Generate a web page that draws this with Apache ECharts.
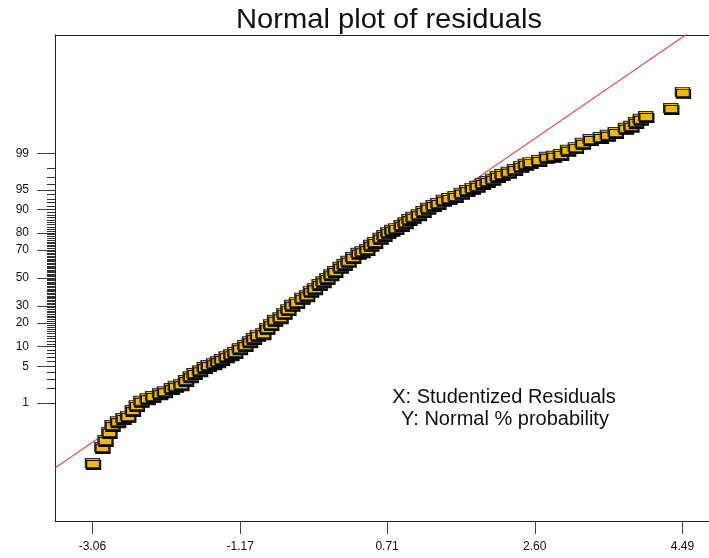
<!DOCTYPE html>
<html><head><meta charset="utf-8">
<script src="https://cdn.jsdelivr.net/npm/echarts@6/dist/echarts.min.js"></script>
<style>html,body{margin:0;padding:0;background:#fff}#c{width:709px;height:558px}</style>
</head><body><div id="c"></div>
<script>
// Studentized residuals (x) and their normal scores (y, in standard-normal units)
const residuals = [-3.06,-2.94,-2.90,-2.85,-2.81,-2.74,-2.67,-2.61,-2.55,-2.50,-2.44,-2.36,-2.29,-2.20,-2.14,-2.05,-2.00,-1.93,-1.87,-1.81,-1.76,-1.69,-1.63,-1.58,-1.51,-1.46,-1.41,-1.35,-1.29,-1.24,-1.18,-1.11,-1.05,-1.00,-0.95,-0.88,-0.83,-0.78,-0.73,-0.66,-0.61,-0.56,-0.51,-0.45,-0.38,-0.32,-0.27,-0.22,-0.16,-0.11,-0.06,-0.01,0.04,0.11,0.16,0.21,0.27,0.34,0.39,0.45,0.50,0.55,0.62,0.67,0.72,0.77,0.82,0.89,0.94,0.99,1.04,1.11,1.17,1.23,1.30,1.36,1.43,1.50,1.58,1.66,1.73,1.80,1.86,1.93,1.99,2.06,2.12,2.18,2.26,2.34,2.42,2.48,2.54,2.65,2.75,2.84,2.93,3.02,3.12,3.21,3.31,3.44,3.53,3.63,3.76,3.83,3.89,3.95,4.02,4.34,4.49];
const normalScores = [-3.45,-3.15,-3.02,-2.87,-2.74,-2.67,-2.61,-2.57,-2.46,-2.37,-2.29,-2.24,-2.20,-2.15,-2.11,-2.05,-2.01,-1.98,-1.90,-1.83,-1.77,-1.72,-1.66,-1.62,-1.59,-1.55,-1.51,-1.46,-1.42,-1.38,-1.31,-1.25,-1.18,-1.12,-1.06,-1.03,-0.93,-0.86,-0.78,-0.73,-0.65,-0.58,-0.50,-0.45,-0.37,-0.32,-0.24,-0.19,-0.11,-0.06,0.00,0.07,0.13,0.21,0.26,0.32,0.39,0.47,0.50,0.54,0.62,0.67,0.75,0.80,0.86,0.90,0.93,0.99,1.04,1.10,1.14,1.19,1.25,1.31,1.36,1.40,1.46,1.49,1.53,1.59,1.64,1.68,1.72,1.77,1.81,1.85,1.90,1.94,1.98,2.03,2.09,2.13,2.16,2.20,2.26,2.28,2.31,2.39,2.44,2.52,2.59,2.63,2.67,2.72,2.80,2.84,2.91,2.97,3.02,3.17,3.47];
const xTickLabels = ['-3.06','-1.17','0.71','2.60','4.49'];
const yTickLabels = ['1','5','10','20','30','50','70','80','90','95','99'];
const xRange = [-3.54, 4.83];
const yRange = [-4.53, 4.53];
const refLineX = [-3.54, 4.83];

function probit(p){
  const a=[-3.969683028665376e+01,2.209460984245205e+02,-2.759285104469687e+02,1.383577518672690e+02,-3.066479806614716e+01,2.506628277459239e+00];
  const b=[-5.447609879822406e+01,1.615858368580409e+02,-1.556989798598866e+02,6.680131188771972e+01,-1.328068155288572e+01];
  const c=[-7.784894002430293e-03,-3.223964580411365e-01,-2.400758277161838e+00,-2.549671348109180e+00,4.374664141464968e+00,2.938163982698783e+00];
  const d=[7.784695709041462e-03,3.224671290700398e-01,2.445134137142996e+00,3.754408661907416e+00];
  const pl=0.02425, ph=1-pl; let q,r;
  if(p<pl){q=Math.sqrt(-2*Math.log(p));return (((((c[0]*q+c[1])*q+c[2])*q+c[3])*q+c[4])*q+c[5])/((((d[0]*q+d[1])*q+d[2])*q+d[3])*q+1);}
  if(p<=ph){q=p-0.5;r=q*q;return (((((a[0]*r+a[1])*r+a[2])*r+a[3])*r+a[4])*r+a[5])*q/(((((b[0]*r+b[1])*r+b[2])*r+b[3])*r+b[4])*r+1);}
  q=Math.sqrt(-2*Math.log(1-p));return -(((((c[0]*q+c[1])*q+c[2])*q+c[3])*q+c[4])*q+c[5])/((((d[0]*q+d[1])*q+d[2])*q+d[3])*q+1);
}
const yMajorZ = yTickLabels.map(s => probit(parseFloat(s)/100));
const yMinorZ = [];
for (let i = 1; i <= 99; i++) yMinorZ.push(probit(i/100));
const xTickVals = xTickLabels.map(parseFloat);

const FONT = "'Liberation Sans', Arial, sans-serif";
const chart = echarts.init(document.getElementById('c'), null, {renderer:'canvas'});
chart.setOption({
  animation:false,
  backgroundColor:'#fff',
  grid:{left:55, right:0, top:35, bottom:37},
  xAxis:[{
    type:'value', min:xRange[0], max:xRange[1], position:'bottom',
    axisLine:{show:true, onZero:false, lineStyle:{color:'#222', width:1}},
    axisTick:{show:true, customValues:xTickVals, length:13, lineStyle:{color:'#444'}},
    axisLabel:{customValues:xTickVals, margin:20, fontFamily:FONT, fontSize:12, color:'#111',
      formatter:v => { const i = xTickVals.findIndex(t => Math.abs(t-v)<1e-9); return i>=0 ? xTickLabels[i] : ''; }},
    splitLine:{show:false}
  },{
    type:'value', min:xRange[0], max:xRange[1], position:'top',
    axisLine:{show:true, onZero:false, lineStyle:{color:'#222', width:1}},
    axisTick:{show:false}, axisLabel:{show:false}, splitLine:{show:false}
  }],
  yAxis:[{
    type:'value', min:yRange[0], max:yRange[1], position:'left',
    axisLine:{show:true, onZero:false, lineStyle:{color:'#222', width:1}},
    axisTick:{show:true, customValues:yMajorZ, length:18, lineStyle:{color:'#444'}},
    axisLabel:{customValues:yMajorZ, margin:26, fontFamily:FONT, fontSize:12, color:'#111',
      formatter:v => { const i = yMajorZ.findIndex(t => Math.abs(t-v)<1e-9); return i>=0 ? yTickLabels[i] : ''; }},
    splitLine:{show:false}
  },{
    type:'value', min:yRange[0], max:yRange[1], position:'left', offset:0,
    axisLine:{show:false, onZero:false},
    axisTick:{show:true, customValues:yMinorZ, length:8, lineStyle:{color:'#333'}},
    axisLabel:{show:false}, splitLine:{show:false}
  }],
  series:[{
    type:'line', xAxisIndex:0, yAxisIndex:0, z:1,
    data:refLineX.map(v => [v, v]), symbol:'none', silent:true,
    lineStyle:{color:'#E0505C', width:1.2}, clip:true
  },{
    type:'scatter', xAxisIndex:0, yAxisIndex:0, z:3,
    data:residuals.map((x,i) => [x, normalScores[i]]),
    symbol:'rect', symbolSize:[14,9],
    itemStyle:{color:'#F4B712', borderColor:'#2a2a2a', borderWidth:1.2,
      shadowColor:'rgba(0,0,0,0.95)', shadowBlur:0, shadowOffsetX:1, shadowOffsetY:2, opacity:1}
  }],
  graphic:[
    {type:'text', x:389, y:6.5, scaleX:1.04, originX:0, originY:0, style:{text:'Normal plot of residuals', font:"28px 'Liberation Sans', Arial, sans-serif", fill:'#111', textAlign:'center', textVerticalAlign:'top'}},
    {type:'text', x:504, y:387.5, style:{text:'X: Studentized Residuals', font:"20px 'Liberation Sans', Arial, sans-serif", fill:'#111', textAlign:'center', textVerticalAlign:'top'}},
    {type:'text', x:505, y:409, style:{text:'Y: Normal % probability', font:"20px 'Liberation Sans', Arial, sans-serif", fill:'#111', textAlign:'center', textVerticalAlign:'top'}}
  ]
});
</script>
</body></html>
